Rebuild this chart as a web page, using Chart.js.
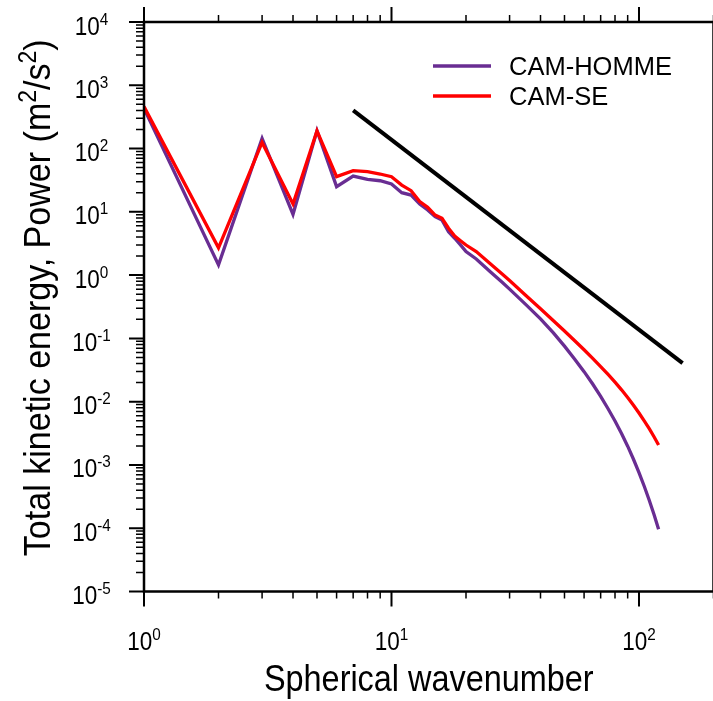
<!DOCTYPE html>
<html>
<head>
<meta charset="utf-8">
<script src="https://cdn.jsdelivr.net/npm/chart.js@4.4.0/dist/chart.umd.min.js"></script>
<style>
  html, body { margin: 0; padding: 0; background: #fff; overflow: hidden; }
  #wrap { position: relative; width: 720px; height: 701px; }
</style>
</head>
<body>
<div id="wrap"><canvas id="spectrumChart"></canvas></div>
<script>
// spherical wavenumbers
const wavenumbers = [1, 2, 3, 4, 5, 6, 7, 8, 9, 10, 11, 12, 13, 14, 15, 16, 17, 18, 19, 20,
    22, 25, 28, 30, 35, 40, 45, 50, 55, 60, 65, 70, 75, 80, 85, 90, 95, 100, 105, 110, 115, 120];
const camHomme = [430, 1.45, 145, 9.1, 192, 25, 36.8, 32.6, 31.0, 27.5, 20.1, 18.4, 13.3, 10.7, 8.4, 7.4, 4.85, 3.82, 3.0, 2.35,
    1.8, 1.14, 0.77, 0.60, 0.339, 0.204, 0.123, 0.0754, 0.047, 0.0298, 0.019, 0.0121, 0.00774, 0.00494, 0.00314, 0.00198,
    0.00123, 0.000757, 0.00046, 0.000277, 0.000165, 0.0000966];
const camSe = [460, 2.7, 125, 13.3, 190, 36, 44.7, 43.1, 39.6, 35.9, 26.5, 21.6, 14.5, 11.8, 8.9, 7.9, 5.5, 4.15, 3.5, 2.99,
    2.35, 1.52, 1.04, 0.82, 0.472, 0.294, 0.192, 0.131, 0.092, 0.0661, 0.0483, 0.0359, 0.0269, 0.0203, 0.0154, 0.0116,
    0.00879, 0.00663, 0.00498, 0.00374, 0.00279, 0.00207];
// k^-3 reference line
const slopeK = [7, 150];
const slopePower = [400, 0.0406];

const xPowers = [0, 1, 2];
const yPowers = [-5, -4, -3, -2, -1, 0, 1, 2, 3, 4];
const seriesNames = ['CAM-HOMME', 'CAM-SE'];
const seriesColors = ['#692d92', '#ff0000'];

const FONT = '"Liberation Sans", Arial, Helvetica, sans-serif';

function toPoints(xs, ys) {
    return xs.map((x, i) => ({ x: x, y: ys[i] }));
}

function partsWidth(ctx, parts, size, supSize) {
    let w = 0;
    parts.forEach(p => {
        ctx.font = (p.sup ? supSize : size) + 'px ' + FONT;
        w += ctx.measureText(p.t).width;
    });
    return w;
}

// draws text pieces with superscripts, centred on cx
function drawParts(ctx, parts, cx, baseY, size, supSize, raise, sx) {
    let x = cx - partsWidth(ctx, parts, size, supSize) * sx / 2;
    parts.forEach(p => {
        ctx.font = (p.sup ? supSize : size) + 'px ' + FONT;
        ctx.save();
        ctx.translate(x, p.sup ? baseY - raise : baseY);
        ctx.scale(sx, 1);
        ctx.fillText(p.t, 0, 0);
        ctx.restore();
        x += ctx.measureText(p.t).width * sx;
    });
}

const ncarAxes = {
    id: 'ncarAxes',
    afterDraw(chart) {
        const { ctx, chartArea: a, scales: { x, y } } = chart;
        ctx.save();
        ctx.strokeStyle = '#000';
        ctx.fillStyle = '#000';
        ctx.lineCap = 'butt';

        // y ticks (left and right, outward)
        yPowers.forEach(p => {
            const py = y.getPixelForValue(Math.pow(10, p));
            ctx.lineWidth = 2;
            ctx.beginPath();
            ctx.moveTo(a.left - 15, py); ctx.lineTo(a.left, py);
            ctx.moveTo(a.right, py); ctx.lineTo(a.right + 15, py);
            ctx.stroke();
            if (p < 4) {
                ctx.lineWidth = 1.5;
                ctx.beginPath();
                for (let m = 2; m <= 9; m++) {
                    const my = y.getPixelForValue(m * Math.pow(10, p));
                    ctx.moveTo(a.left - 8, my); ctx.lineTo(a.left, my);
                    ctx.moveTo(a.right, my); ctx.lineTo(a.right + 8, my);
                }
                ctx.stroke();
            }
        });

        // x ticks (bottom and top, outward)
        xPowers.forEach(p => {
            const px = x.getPixelForValue(Math.pow(10, p));
            ctx.lineWidth = 2;
            ctx.beginPath();
            ctx.moveTo(px, a.bottom); ctx.lineTo(px, a.bottom + 15);
            ctx.moveTo(px, a.top); ctx.lineTo(px, a.top - 15);
            ctx.stroke();
            ctx.lineWidth = 1.5;
            ctx.beginPath();
            for (let m = 2; m <= 9; m++) {
                const v = m * Math.pow(10, p);
                if (v > x.max) break;
                const mx = x.getPixelForValue(v);
                ctx.moveTo(mx, a.bottom); ctx.lineTo(mx, a.bottom + 7);
                ctx.moveTo(mx, a.top); ctx.lineTo(mx, a.top - 7);
            }
            ctx.stroke();
        });

        // frame
        ctx.lineWidth = 2.5;
        ctx.strokeRect(a.left, a.top, a.right - a.left, a.bottom - a.top);

        // tick labels
        ctx.textAlign = 'left';
        ctx.textBaseline = 'alphabetic';
        yPowers.forEach(p => {
            const py = y.getPixelForValue(Math.pow(10, p));
            drawParts(ctx, [{ t: '10' }, { t: String(p), sup: true }], 91.5, py + 12.5, 25, 17, 10, 0.9);
        });
        xPowers.forEach(p => {
            const px = x.getPixelForValue(Math.pow(10, p));
            drawParts(ctx, [{ t: '10' }, { t: String(p), sup: true }], px, 650, 25, 17, 10.5, 0.9);
        });

        // axis titles
        drawParts(ctx, [{ t: 'Spherical wavenumber' }], (a.left + a.right) / 2, 691, 36, 24, 0, 0.9);
        ctx.save();
        ctx.translate(50, (a.top + a.bottom) / 2 - 9);
        ctx.rotate(-Math.PI / 2);
        drawParts(ctx, [
            { t: 'Total kinetic energy, Power (m' }, { t: '2', sup: true },
            { t: '/s' }, { t: '2', sup: true }, { t: ')' }
        ], 0, 0, 37, 25, 14.5, 0.92);
        ctx.restore();

        // legend
        seriesNames.forEach((name, i) => {
            const ly = 66 + i * 30;
            ctx.strokeStyle = seriesColors[i];
            ctx.lineWidth = 3.3;
            ctx.beginPath();
            ctx.moveTo(433, ly); ctx.lineTo(491, ly);
            ctx.stroke();
            ctx.font = '25.5px ' + FONT;
            ctx.fillText(name, 509, ly + 9);
        });
        ctx.restore();
    }
};

new Chart(document.getElementById('spectrumChart'), {
    type: 'scatter',
    data: {
        datasets: [
            {
                label: seriesNames[1],
                data: toPoints(wavenumbers, camSe),
                borderColor: seriesColors[1],
                borderWidth: 3.3,
                showLine: true,
                pointRadius: 0,
                order: 1
            },
            {
                label: seriesNames[0],
                data: toPoints(wavenumbers, camHomme),
                borderColor: seriesColors[0],
                borderWidth: 3.3,
                showLine: true,
                pointRadius: 0,
                order: 2
            },
            {
                label: 'k-3',
                data: toPoints(slopeK, slopePower),
                borderColor: '#000',
                borderWidth: 4,
                showLine: true,
                pointRadius: 0,
                order: 3
            }
        ]
    },
    options: {
        responsive: true,
        maintainAspectRatio: false,
        animation: false,
        devicePixelRatio: 1,
        layout: { padding: { left: 144, top: 22, right: 6.5, bottom: 109.5 } },
        scales: {
            x: { type: 'logarithmic', min: 1, max: 200, display: false },
            y: { type: 'logarithmic', min: 1e-5, max: 1e4, display: false }
        },
        plugins: {
            legend: { display: false },
            tooltip: { enabled: false }
        }
    },
    plugins: [ncarAxes]
});
</script>
</body>
</html>
